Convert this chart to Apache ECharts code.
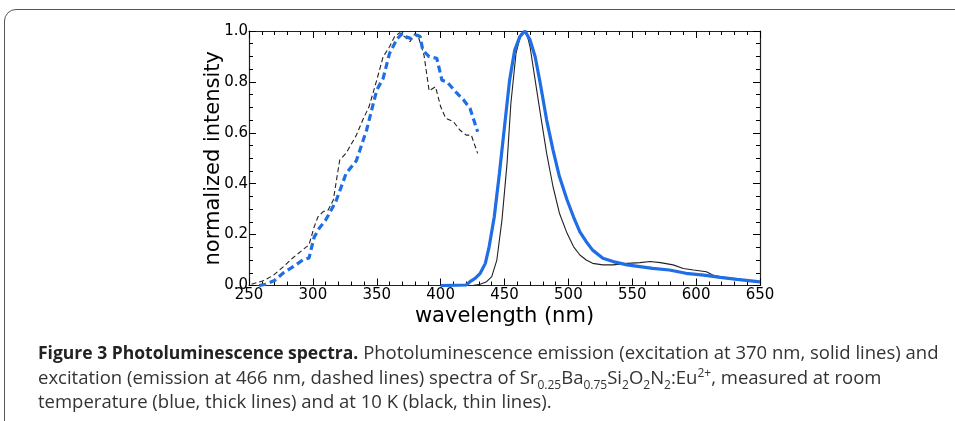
<!DOCTYPE html>
<html>
<head>
<meta charset="utf-8">
<script src="https://cdn.jsdelivr.net/npm/echarts@6/dist/echarts.min.js"></script>
<style>
  html, body { margin: 0; padding: 0; background: #fff; overflow: hidden; }
  #wrap { position: relative; width: 955px; height: 421px; overflow: hidden; }
  #frame {
    position: absolute; left: 4px; top: 9px; width: 1000px; height: 500px;
    border: 1.5px solid #555; border-radius: 12px; box-sizing: border-box;
  }
  #chart { position: absolute; left: 0; top: 0; width: 955px; height: 421px; }
  #caption {
    position: absolute; left: 38px; top: 340px; width: 915px;
    font-family: "Open Sans", sans-serif;
    font-size: 18.5px; line-height: 24.5px; color: #333; white-space: nowrap;
  }
  #caption b { color: #222; font-weight: 700; font-size: 17.5px; }
  #caption sub, #caption sup { font-size: 12px; line-height: 0; }
</style>
</head>
<body>
<div id="wrap">
  <div id="frame"></div>
  <div id="chart"></div>
  <div id="caption">
    <b>Figure 3 Photoluminescence spectra.</b> Photoluminescence emission (excitation at 370 nm, solid lines) and<br>
    excitation (emission at 466 nm, dashed lines) spectra of Sr<sub>0.25</sub>Ba<sub>0.75</sub>Si<sub>2</sub>O<sub>2</sub>N<sub>2</sub>:Eu<sup>2+</sup>, measured at room<br>
    temperature (blue, thick lines) and at 10 K (black, thin lines).
  </div>
</div>
<script>
  // excitation, room temperature (blue dashed)
  var exRtNm  = [258, 263, 270, 277, 285, 292, 297, 301, 305, 310, 318, 326, 334, 342, 350, 355, 360, 366, 370, 373, 377, 381, 384, 386, 391, 397, 401, 405, 412, 418, 423, 429];
  var exRtVal = [0, 0.005, 0.02, 0.05, 0.075, 0.10, 0.108, 0.19, 0.225, 0.257, 0.33, 0.44, 0.49, 0.61, 0.768, 0.814, 0.912, 0.97, 0.99, 0.977, 0.97, 0.984, 0.978, 0.925, 0.899, 0.893, 0.807, 0.80, 0.76, 0.729, 0.696, 0.604];
  // excitation, 10 K (black dashed)
  var ex10Nm  = [252, 262, 269, 277, 284, 292, 297, 301, 304, 308, 312, 316, 321, 326, 334, 339, 344, 350, 355, 360, 364, 368, 372, 376, 380, 383, 387, 391, 396, 400, 404, 410, 415, 420, 424, 429];
  var ex10Val = [0.005, 0.02, 0.04, 0.074, 0.107, 0.14, 0.16, 0.23, 0.27, 0.29, 0.297, 0.336, 0.493, 0.52, 0.59, 0.65, 0.703, 0.807, 0.899, 0.938, 0.978, 0.993, 0.977, 0.958, 0.99, 0.97, 0.905, 0.765, 0.781, 0.703, 0.657, 0.644, 0.611, 0.591, 0.591, 0.519];
  // emission, room temperature (blue solid)
  var emRtNm  = [400, 420, 423, 427, 431, 435, 438, 442, 446, 450, 454, 458, 462, 466, 470, 474, 478, 483, 488, 493, 499, 504, 509, 514, 519, 527, 535, 546, 556, 566, 579, 592, 606, 619, 632, 650];
  var emRtVal = [0, 0.002, 0.015, 0.028, 0.048, 0.087, 0.153, 0.27, 0.44, 0.624, 0.807, 0.925, 0.978, 1.0, 0.965, 0.899, 0.794, 0.65, 0.532, 0.428, 0.336, 0.27, 0.211, 0.172, 0.139, 0.107, 0.094, 0.081, 0.074, 0.067, 0.061, 0.048, 0.041, 0.032, 0.024, 0.014];
  // emission, 10 K (black solid)
  var em10Nm  = [425, 431, 436, 440, 444, 448, 452, 455, 459, 463, 467, 470, 474, 478, 483, 488, 493, 499, 504, 509, 514, 519, 527, 535, 546, 556, 564, 572, 582, 590, 598, 608, 613, 624, 634, 650];
  var em10Val = [0, 0.005, 0.015, 0.035, 0.1, 0.257, 0.48, 0.716, 0.912, 0.99, 1.0, 0.938, 0.807, 0.677, 0.519, 0.388, 0.284, 0.205, 0.153, 0.12, 0.1, 0.087, 0.081, 0.081, 0.087, 0.09, 0.094, 0.09, 0.081, 0.067, 0.061, 0.054, 0.041, 0.028, 0.022, 0.015];

  var xTicks = [250, 300, 350, 400, 450, 500, 550, 600, 650];
  var yTicks = [0.0, 0.2, 0.4, 0.6, 0.8, 1.0];

  var BLUE = '#1f6ee6';
  var FONT = 'DejaVu Sans';

  function zip(xs, ys) {
    var out = [];
    for (var i = 0; i < xs.length; i++) out.push([xs[i], ys[i]]);
    return out;
  }

  var tick = { show: true, inside: true, length: 7, lineStyle: { color: '#000', width: 1 } };
  var minor = { show: true, length: 4, lineStyle: { color: '#000', width: 1 } };
  var line = { show: true, onZero: false, lineStyle: { color: '#222', width: 1.2 } };

  function xAxis(pos, labels) {
    return {
      type: 'value', position: pos, min: xTicks[0], max: xTicks[xTicks.length - 1],
      interval: xTicks[1] - xTicks[0],
      name: labels ? 'wavelength (nm)' : '', nameLocation: 'middle', nameGap: 21,
      nameMoveOverlap: false,
      nameTextStyle: { fontFamily: FONT, fontSize: 21, color: '#000' },
      axisLine: line, axisTick: tick,
      minorTick: Object.assign({ splitNumber: 5 }, minor),
      axisLabel: { show: labels, margin: 2, fontFamily: FONT, fontSize: 15, color: '#000' },
      splitLine: { show: false }, minorSplitLine: { show: false }
    };
  }
  function yAxis(pos, labels) {
    return {
      type: 'value', position: pos, min: yTicks[0], max: yTicks[yTicks.length - 1],
      interval: yTicks[1] - yTicks[0],
      name: labels ? 'normalized intensity' : '', nameLocation: 'middle', nameGap: 25,
      nameMoveOverlap: false,
      nameTextStyle: { fontFamily: FONT, fontSize: 21, color: '#000' },
      axisLine: line, axisTick: tick,
      minorTick: Object.assign({ splitNumber: 4 }, minor),
      axisLabel: {
        show: labels, margin: 1, fontFamily: FONT, fontSize: 15, color: '#000',
        formatter: function (v) { return v.toFixed(1); }
      },
      splitLine: { show: false }, minorSplitLine: { show: false }
    };
  }

  function series(name, data, color, width, dash) {
    return {
      name: name, type: 'line', data: data, showSymbol: false, symbol: 'none',
      xAxisIndex: 0, yAxisIndex: 0, clip: true, z: width > 2 ? 3 : 2,
      lineStyle: { color: color, width: width, type: dash }
    };
  }

  var chart = echarts.init(document.getElementById('chart'), null, { renderer: 'canvas' });
  chart.setOption({
    animation: false,
    grid: { left: 249, top: 31, right: 195, bottom: 135.5 },
    xAxis: [xAxis('bottom', true), xAxis('top', false)],
    yAxis: [yAxis('left', true), yAxis('right', false)],
    series: [
      series('excitation 10 K', zip(ex10Nm, ex10Val), '#222', 1.1, [5, 3]),
      series('emission 10 K', zip(em10Nm, em10Val), '#222', 1.1, 'solid'),
      series('excitation RT', zip(exRtNm, exRtVal), BLUE, 3.2, [7, 4]),
      series('emission RT', zip(emRtNm, emRtVal), BLUE, 3.2, 'solid')
    ]
  });
</script>
</body>
</html>
